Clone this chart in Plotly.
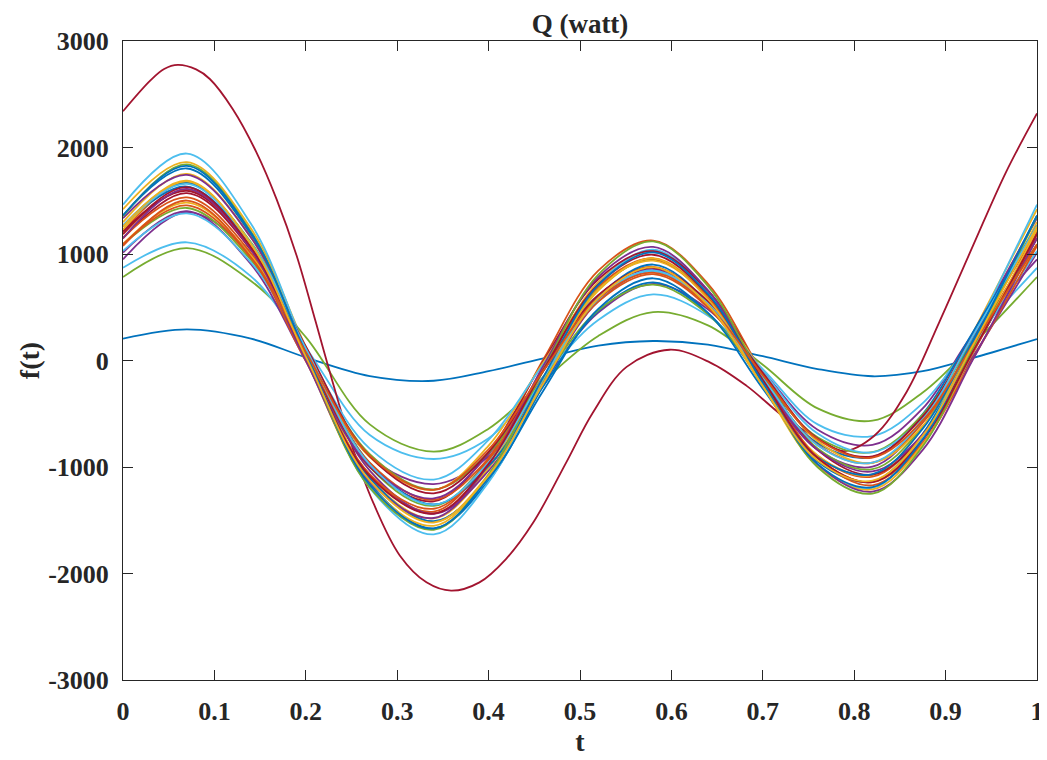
import plotly.graph_objects as go

# sample times (t) shared by most curves
t = [0, 0.07, 0.14, 0.2, 0.27, 0.34, 0.40, 0.46, 0.52, 0.58, 0.64, 0.70, 0.76, 0.82, 0.875, 0.93, 1.0]

# the large outlier curve was read on its own, denser time grid
t_red = [0, 0.03, 0.045, 0.06, 0.08, 0.095, 0.12, 0.146, 0.168, 0.19, 0.211, 0.226, 0.248, 0.274, 0.303,
         0.332, 0.359, 0.39, 0.419, 0.449, 0.485, 0.514, 0.551, 0.598, 0.642, 0.682, 0.726,
         0.762, 0.788, 0.822, 0.857, 0.893, 0.93, 0.966, 1.0]
q07 = [2340, 2630, 2737, 2775, 2733, 2643, 2362, 1955, 1516, 984, 358, -100, -737, -1340, -1833,
       -2083, -2161, -2083, -1864, -1519, -956, -490, -60, 101, -17, -236, -549,
       -740, -850, -706, -300, 358, 1078, 1767, 2320]

# curves (watt)
q01 = [205, 292, 205, 30, -146, -190, -100, 20, 140, 183, 150, 40, -80, -148, -100, 25, 202]
q02 = [1464, 1943, 1283, 104, -1196, -1633, -1142, -174, 717, 1040, 645, -206, -985, -1197, -724, 222, 1464]
q03 = [1420, 1863, 1239, 130, -1095, -1516, -1069, -173, 656, 961, 601, -180, -892, -1077, -627, 261, 1420]
q04 = [950, 1394, 1000, 90, -900, -1160, -900, -200, 450, 720, 480, -100, -650, -793, -450, 250, 950]
q05 = [784, 1056, 747, 220, -600, -855, -640, -190, 230, 455, 330, -40, -450, -565, -300, 150, 784]
q06 = [870, 1110, 790, 120, -700, -925, -730, -150, 380, 620, 420, -80, -600, -709, -400, 200, 870]
q08 = [1360, 1803, 1179, 70, -1155, -1576, -1129, -233, 596, 901, 541, -240, -952, -1137, -687, 201, 1360]
q09 = [1300, 1752, 1155, 79, -1102, -1482, -1008, -96, 735, 1029, 645, -169, -919, -1140, -718, 150, 1300]
q10 = [1210, 1672, 1101, 58, -1080, -1419, -917, 11, 844, 1126, 719, -128, -915, -1172, -779, 70, 1210]
q11 = [1336, 1743, 1155, 116, -1034, -1439, -1035, -211, 555, 842, 517, -194, -839, -997, -570, 259, 1336]
q12 = [1256, 1672, 1111, 105, -1001, -1365, -934, -94, 674, 950, 601, -143, -826, -1020, -621, 188, 1256]
q13 = [1186, 1602, 1041, 35, -1071, -1435, -1004, -164, 604, 880, 531, -213, -896, -1090, -691, 118, 1186]
q14 = [1146, 1572, 1037, 64, -999, -1322, -863, -7, 763, 1027, 655, -122, -842, -1072, -702, 88, 1146]
q15 = [1263, 1633, 1082, 113, -963, -1352, -991, -240, 464, 733, 444, -197, -776, -907, -503, 268, 1263]
q16 = [1153, 1532, 1008, 72, -960, -1308, -920, -153, 553, 811, 498, -176, -793, -960, -584, 167, 1153]
q17 = [1093, 1482, 984, 81, -908, -1215, -799, -16, 692, 938, 602, -105, -759, -962, -615, 117, 1093]
q18 = [1013, 1402, 904, 1, -988, -1295, -879, -96, 612, 858, 522, -185, -839, -1042, -695, 37, 1013]
q19 = [1089, 1432, 944, 78, -879, -1211, -867, -172, 472, 712, 434, -170, -720, -860, -507, 186, 1089]
q20 = [1029, 1382, 920, 87, -827, -1118, -746, -35, 611, 839, 538, -99, -686, -862, -538, 136, 1029]
q21 = [1213, 1592, 1068, 132, -900, -1248, -860, -93, 613, 871, 558, -116, -733, -900, -524, 227, 1213]
q22 = [1266, 1673, 1085, 46, -1104, -1509, -1105, -281, 485, 772, 447, -264, -909, -1067, -640, 189, 1266]
q23 = [1076, 1502, 967, -6, -1069, -1392, -933, -77, 693, 957, 585, -192, -912, -1142, -772, 18, 1076]
q24 = [1230, 1682, 1085, 9, -1172, -1552, -1078, -166, 665, 959, 575, -239, -989, -1210, -788, 80, 1230]
q25 = [1150, 1612, 1041, -2, -1140, -1479, -977, -49, 784, 1066, 659, -188, -975, -1232, -839, 10, 1150]
q26 = [1354, 1842, 1209, 63, -1193, -1589, -1071, -87, 806, 1118, 699, -185, -1002, -1250, -805, 121, 1354]
q27 = [1265, 1658, 1102, 113, -977, -1354, -957, -161, 575, 847, 528, -165, -797, -958, -558, 233, 1265]
q28 = [1188, 1627, 1061, 37, -1086, -1438, -971, -87, 714, 993, 615, -181, -916, -1141, -745, 84, 1188]
q29 = [1362, 1828, 1199, 71, -1169, -1578, -1095, -154, 707, 1015, 625, -207, -973, -1188, -742, 166, 1362]
q30 = [1091, 1457, 964, 80, -894, -1214, -834, -94, 582, 825, 518, -138, -740, -911, -561, 151, 1091]
q31 = [1258, 1688, 1095, 37, -1128, -1521, -1081, -213, 586, 876, 521, -241, -940, -1128, -705, 145, 1258]

x_ticks = [0, 0.1, 0.2, 0.3, 0.4, 0.5, 0.6, 0.7, 0.8, 0.9, 1]
x_tick_text = ["0", "0.1", "0.2", "0.3", "0.4", "0.5", "0.6", "0.7", "0.8", "0.9", "1"]
y_ticks = [-3000, -2000, -1000, 0, 1000, 2000, 3000]
y_tick_text = ["-3000", "-2000", "-1000", "0", "1000", "2000", "3000"]

colors = ["#0072BD", "#D95319", "#EDB120", "#7E2F8E", "#77AC30", "#4DBEEE", "#A2142F"]

# drawing order (colours cycle through the MATLAB default order)
curves = [q01, q13, q03, q04, q05, q06, q07, q08, q10, q09, q11, q12, q02,
          q14, q15, q16, q17, q18, q19, q20, q21, q22, q23, q24, q25,
          q26, q27, q28, q29, q30, q31]

fig = go.Figure()
for i, y in enumerate(curves):
    x = t_red if y is q07 else t
    fig.add_trace(go.Scatter(
        x=x, y=y, mode="lines",
        line=dict(color=colors[i % len(colors)], width=1.8, shape="spline", smoothing=1.0),
        showlegend=False, hoverinfo="skip"))

font_family = "Liberation Serif, Times New Roman, serif"
axis_common = dict(
    showline=True, linecolor="#262626", linewidth=1, mirror="ticks",
    ticks="inside", ticklen=10, tickwidth=1, tickcolor="#262626",
    showgrid=False, zeroline=False, automargin=False,
    tickfont=dict(family=font_family, size=26, color="#262626", weight="bold"),
)

# page body has an 8px margin, so the figure is sized to fill the 1047x760 window exactly
fig.update_layout(
    width=1039, height=752,
    margin=dict(l=115, r=10, t=33, b=80),
    paper_bgcolor="white", plot_bgcolor="white",
    title=dict(text="Q (watt)", x=0.5, xref="paper", y=1, yref="paper", yanchor="bottom",
               pad=dict(b=8),
               font=dict(family=font_family, size=27, color="#262626", weight="bold")),
    xaxis=dict(range=[0, 1], tickvals=x_ticks, ticktext=x_tick_text, ticklabelstandoff=8,
               title=dict(text="t", standoff=4,
                          font=dict(family=font_family, size=28, color="#262626", weight="bold")),
               **axis_common),
    yaxis=dict(range=[-3000, 3000], tickvals=y_ticks, ticktext=y_tick_text, ticklabelstandoff=8,
               title=dict(text="f(t)", standoff=0,
                          font=dict(family=font_family, size=28, color="#262626", weight="bold")),
               **axis_common),
)

fig.write_html("out.html")
